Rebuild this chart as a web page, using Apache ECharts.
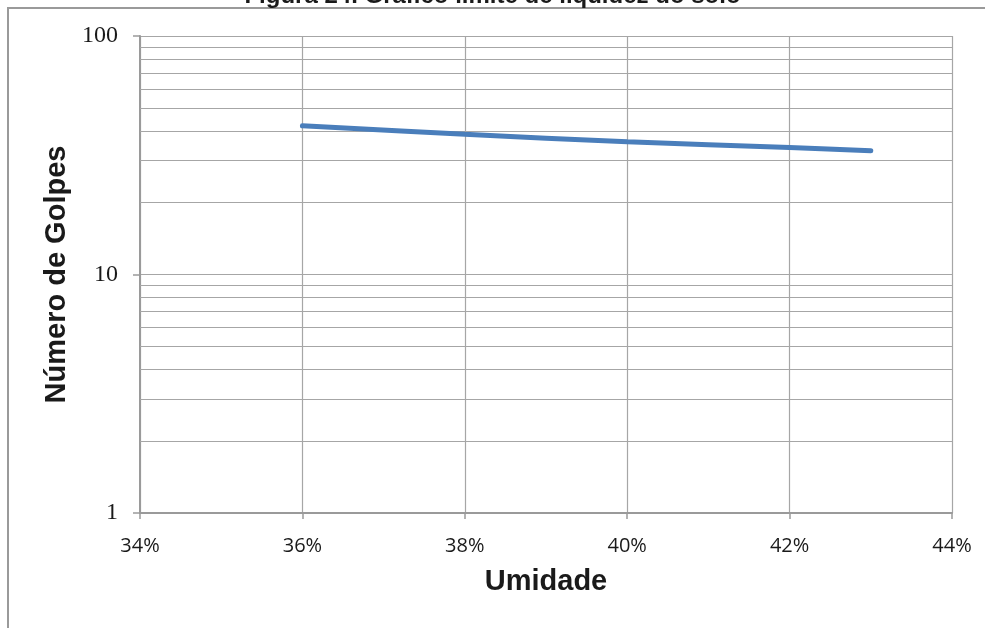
<!DOCTYPE html>
<html>
<head>
<meta charset="utf-8">
<script src="https://cdn.jsdelivr.net/npm/echarts@6/dist/echarts.min.js"></script>
<style>
  html, body { margin: 0; padding: 0; background: #fff; }
  #chart { width: 985px; height: 628px; }
</style>
</head>
<body>
<div id="chart"></div>
<script>
// Liquid limit test: moisture content (%) vs. number of blows
const umidade = [36, 38, 40, 42, 43];
const golpes = [42, 38.7, 36, 34.1, 33];

// Axis ranges and tick labels
const xTicks = [34, 36, 38, 40, 42, 44];
const yTicks = [1, 10, 100];

// Intermediate log gridlines (2..9 in each decade)
const minorGrid = [2, 3, 4, 5, 6, 7, 8, 9, 20, 30, 40, 50, 60, 70, 80, 90];

const chart = echarts.init(document.getElementById('chart'), null, { renderer: 'canvas' });

const gridColor = '#a6a6a6';

chart.setOption({
  animation: false,
  backgroundColor: '#ffffff',
  title: {
    text: 'Figura 24. Gráfico limite de liquidez do solo',
    left: 'center',
    top: -21,
    textStyle: { fontFamily: 'Liberation Sans', fontWeight: 'bold', fontSize: 24, color: '#1a1a1a' }
  },
  graphic: [{
    type: 'polyline',
    shape: { points: [[8, 628], [8, 8], [985, 8]] },
    style: { stroke: '#9a9a9a', lineWidth: 2, fill: null },
    silent: true
  }],
  grid: { left: 140, right: 33, top: 36, bottom: 115 },
  xAxis: {
    type: 'value',
    min: xTicks[0],
    max: xTicks[xTicks.length - 1],
    interval: 2,
    name: 'Umidade',
    nameLocation: 'middle',
    nameGap: 54,
    nameTextStyle: { fontFamily: 'Liberation Sans', fontWeight: 'bold', fontSize: 29, color: '#1a1a1a' },
    axisLine: { show: true, lineStyle: { color: '#9a9a9a', width: 2 } },
    axisTick: { show: true, length: 6, lineStyle: { color: '#9a9a9a', width: 1.5 } },
    axisLabel: { formatter: '{value}%', margin: 23, fontFamily: 'Open Sans', fontSize: 20, color: '#1a1a1a' },
    splitLine: { show: true, lineStyle: { color: gridColor, width: 1.2 } }
  },
  yAxis: {
    type: 'log',
    logBase: 10,
    min: yTicks[0],
    max: yTicks[yTicks.length - 1],
    name: 'Número de Golpes',
    nameLocation: 'middle',
    nameGap: 53,
    nameTextStyle: { fontFamily: 'Liberation Sans', fontWeight: 'bold', fontSize: 29, color: '#1a1a1a' },
    axisLine: { show: true, lineStyle: { color: '#9a9a9a', width: 2 } },
    axisTick: { show: true, length: 7, lineStyle: { color: '#9a9a9a', width: 1.5 } },
    axisLabel: { margin: 22, fontFamily: 'Liberation Serif', fontSize: 24, color: '#1a1a1a' },
    splitLine: { show: true, lineStyle: { color: gridColor, width: 1.2 } }
  },
  series: [
    {
      name: 'grade',
      type: 'line',
      data: [],
      silent: true,
      z: 1,
      markLine: {
        silent: true,
        symbol: 'none',
        label: { show: false },
        lineStyle: { color: gridColor, width: 1.2, type: 'solid' },
        data: minorGrid.map(v => ({ yAxis: v }))
      }
    },
    {
      name: 'Golpes',
      type: 'line',
      smooth: 0.35,
      showSymbol: false,
      z: 5,
      lineStyle: { color: '#4a7ebb', width: 5, cap: 'round' },
      data: umidade.map((u, i) => [u, golpes[i]])
    }
  ]
});
</script>
</body>
</html>
